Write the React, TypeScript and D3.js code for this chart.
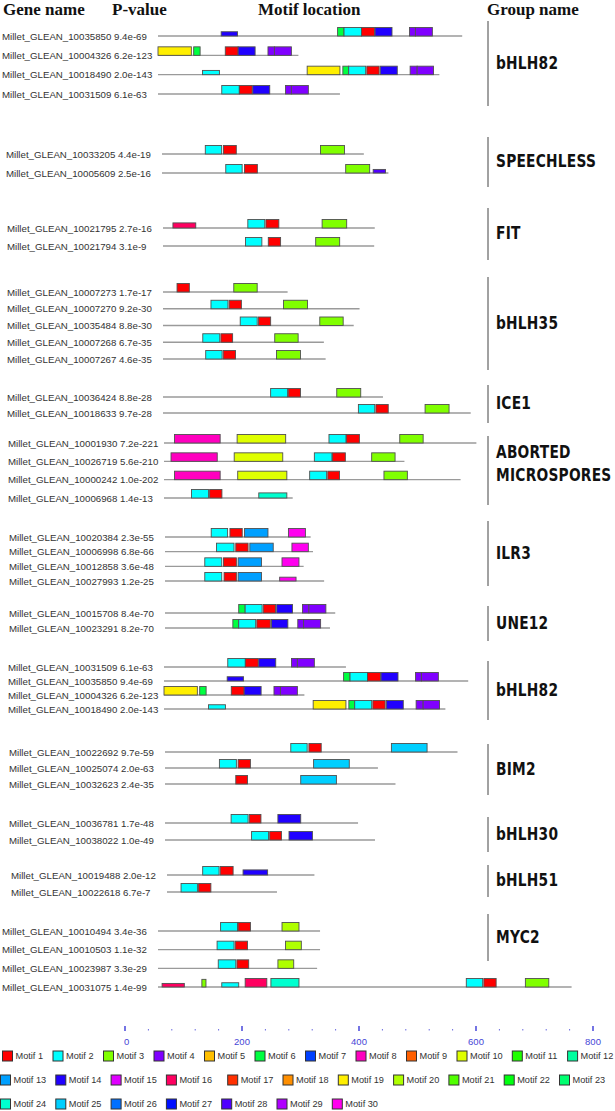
import React from "react";
import * as d3 from "d3";

// ---------- DATA ----------
const motifColors = [
  "#ff0000", "#00ffff", "#80ff00", "#8000ff", "#ffbf00", "#00ff40", "#0040ff", "#ff00bf",
  "#ff6000", "#dfff00", "#20ff00", "#00ffa0", "#00a0ff", "#2000ff", "#df00ff", "#ff0060",
  "#ff3000", "#ff8f00", "#ffef00", "#afff00", "#50ff00", "#00ff10", "#00ff70", "#00ffcf",
  "#00cfff", "#0070ff", "#0010ff", "#5000ff", "#af00ff", "#ff00ef",
];

const groupNames = [
  "bHLH82", "SPEECHLESS", "FIT", "bHLH35", "ICE1", "ABORTED\nMICROSPORES", "ILR3",
  "UNE12", "bHLH82", "BIM2", "bHLH30", "bHLH51", "MYC2",
];

const groupGenes = [
  ["10035850", "10004326", "10018490", "10031509"],
  ["10033205", "10005609"],
  ["10021795", "10021794"],
  ["10007273", "10007270", "10035484", "10007268", "10007267"],
  ["10036424", "10018633"],
  ["10001930", "10026719", "10000242", "10006968"],
  ["10020384", "10006998", "10012858", "10027993"],
  ["10015708", "10023291"],
  ["10031509", "10035850", "10004326", "10018490"],
  ["10022692", "10025074", "10032623"],
  ["10036781", "10038022"],
  ["10019488", "10022618"],
  ["10010494", "10010503", "10023987", "10031075"],
];

const genePrefix = "Millet_GLEAN_";

const pValues: Record<string, string> = {
  "10035850": "9.4e-69", "10004326": "6.2e-123", "10018490": "2.0e-143", "10031509": "6.1e-63",
  "10033205": "4.4e-19", "10005609": "2.5e-16", "10021795": "2.7e-16", "10021794": "3.1e-9",
  "10007273": "1.7e-17", "10007270": "9.2e-30", "10035484": "8.8e-30", "10007268": "6.7e-35",
  "10007267": "4.6e-35", "10036424": "8.8e-28", "10018633": "9.7e-28", "10001930": "7.2e-221",
  "10026719": "5.6e-210", "10000242": "1.0e-202", "10006968": "1.4e-13", "10020384": "2.3e-55",
  "10006998": "6.8e-66", "10012858": "3.6e-48", "10027993": "1.2e-25", "10015708": "8.4e-70",
  "10023291": "8.2e-70", "10022692": "9.7e-59", "10025074": "2.0e-63", "10032623": "2.4e-35",
  "10036781": "1.7e-48", "10038022": "1.0e-49", "10019488": "2.0e-12", "10022618": "6.7e-7",
  "10010494": "3.4e-36", "10010503": "1.1e-32", "10023987": "3.3e-29", "10031075": "1.4e-99",
};

const seqLengths: Record<string, number> = {
  "10035850": 520, "10004326": 240, "10018490": 481, "10031509": 311,
  "10033205": 345, "10005609": 387, "10021795": 362, "10021794": 361,
  "10007273": 213, "10007270": 336, "10035484": 326, "10007268": 275,
  "10007267": 278, "10036424": 376, "10018633": 526, "10001930": 534,
  "10026719": 411, "10000242": 507, "10006968": 220, "10020384": 249,
  "10006998": 253, "10012858": 237, "10027993": 272, "10015708": 291,
  "10023291": 282, "10022692": 500, "10025074": 364, "10032623": 394,
  "10036781": 330, "10038022": 359, "10019488": 252, "10022618": 188,
  "10010494": 277, "10010503": 277, "10023987": 272, "10031075": 707,
};

// [motif number, start, end, relative strength]
const motifHits: Record<string, [number, number, number, number][]> = {
  "10035850": [[14, 108, 136, 0.5], [6, 307, 318, 1], [2, 318, 348, 1], [1, 348, 370, 1], [14, 371, 400, 1], [4, 430, 440, 1], [4, 440, 469, 1]],
  "10004326": [[19, 0, 57, 1], [6, 61, 72, 1], [1, 115, 137, 1], [14, 137, 166, 1], [4, 188, 199, 1], [4, 199, 228, 1]],
  "10018490": [[2, 76, 105, 0.5], [19, 255, 311, 1], [6, 316, 326, 1], [2, 326, 355, 1], [1, 357, 378, 1], [14, 380, 409, 1], [4, 431, 443, 1], [4, 443, 471, 1]],
  "10031509": [[2, 109, 139, 1], [1, 139, 161, 1], [14, 162, 191, 1], [4, 218, 228, 1], [4, 228, 257, 1]],
  "10033205": [[2, 74, 102, 1], [1, 105, 127, 1], [3, 271, 312, 1]],
  "10005609": [[2, 109, 137, 1], [1, 141, 163, 1], [3, 314, 355, 1], [28, 361, 382, 0.42]],
  "10021795": [[16, 17, 56, 0.6], [2, 145, 174, 1], [1, 176, 198, 1], [3, 272, 314, 1]],
  "10021794": [[2, 141, 169, 1], [1, 180, 201, 1], [3, 261, 302, 1]],
  "10007273": [[1, 24, 45, 1], [3, 121, 161, 1]],
  "10007270": [[2, 82, 111, 1], [1, 113, 134, 1], [3, 206, 247, 1]],
  "10035484": [[2, 132, 161, 1], [1, 163, 184, 1], [3, 268, 308, 1]],
  "10007268": [[2, 68, 97, 1], [1, 99, 119, 1], [3, 191, 231, 1]],
  "10007267": [[2, 73, 101, 1], [1, 103, 124, 1], [3, 194, 235, 1]],
  "10036424": [[2, 184, 213, 1], [1, 214, 235, 1], [3, 297, 338, 1]],
  "10018633": [[2, 334, 362, 1], [1, 364, 385, 1], [3, 448, 489, 1]],
  "10001930": [[8, 18, 96, 1], [10, 125, 208, 1], [2, 282, 311, 1], [1, 312, 334, 1], [3, 403, 443, 1]],
  "10026719": [[8, 12, 91, 1], [10, 120, 203, 1], [2, 257, 287, 1], [1, 288, 310, 1], [3, 355, 395, 1]],
  "10000242": [[8, 18, 96, 1], [10, 126, 210, 1], [2, 249, 278, 1], [1, 280, 300, 1], [3, 376, 416, 1]],
  "10006968": [[2, 47, 76, 1], [1, 78, 99, 1], [24, 162, 210, 0.6]],
  "10020384": [[2, 79, 107, 1], [1, 111, 132, 1], [13, 136, 176, 1], [30, 211, 240, 1]],
  "10006998": [[2, 88, 118, 1], [1, 121, 142, 1], [13, 145, 185, 1], [30, 217, 245, 1]],
  "10012858": [[2, 68, 97, 1], [1, 100, 122, 1], [13, 125, 165, 1], [30, 200, 229, 1]],
  "10027993": [[2, 68, 97, 1], [1, 101, 122, 1], [13, 125, 165, 1], [30, 196, 224, 0.45]],
  "10015708": [[6, 126, 137, 1], [2, 137, 166, 1], [1, 168, 189, 1], [14, 191, 218, 1], [4, 235, 246, 1], [4, 246, 275, 1]],
  "10023291": [[6, 116, 126, 1], [2, 126, 155, 1], [1, 157, 180, 1], [14, 182, 210, 1], [4, 227, 237, 1], [4, 237, 266, 1]],
  "10022692": [[2, 215, 243, 1], [1, 246, 267, 1], [25, 387, 448, 1]],
  "10025074": [[2, 93, 122, 1], [1, 125, 146, 1], [25, 254, 315, 1]],
  "10032623": [[1, 121, 141, 1], [25, 232, 293, 1]],
  "10036781": [[2, 113, 142, 1], [1, 144, 164, 1], [14, 193, 232, 1]],
  "10038022": [[2, 148, 177, 1], [1, 179, 199, 1], [14, 212, 252, 1]],
  "10019488": [[2, 61, 89, 1], [1, 91, 113, 1], [14, 130, 172, 0.6]],
  "10022618": [[2, 24, 52, 1], [1, 54, 75, 1]],
  "10010494": [[2, 107, 136, 1], [1, 137, 158, 1], [20, 212, 241, 1]],
  "10010503": [[2, 101, 130, 1], [1, 132, 153, 1], [20, 218, 245, 1]],
  "10023987": [[2, 103, 133, 1], [1, 135, 155, 1], [20, 205, 232, 1]],
  "10031075": [[16, 7, 45, 0.42], [3, 75, 82, 0.9], [2, 109, 138, 0.5], [16, 149, 186, 1], [24, 193, 241, 1], [2, 527, 555, 1], [1, 557, 578, 1], [3, 628, 668, 1]],
};

const axisMajorTicks = [0, 200, 400, 600, 800];
const axisMinorStep = 40;
const legendRows = [d3.range(1, 13), d3.range(13, 24), d3.range(24, 31)];

// ---------- LAYOUT ----------
const W = 615;
const H = 1111;
const groupRowRange: [number, number][] = [
  [36, 94], [154, 173], [228, 246], [292, 359], [397, 413], [443, 498], [537, 581],
  [613, 628], [667, 709], [752, 784], [823, 840], [875, 892], [931, 987],
];
const groupBracket: [number, number][] = [
  [21, 106], [137, 187], [208, 260], [277, 370], [385, 423], [436, 505], [521, 586],
  [606, 641], [661, 720], [744, 795], [817, 852], [865, 897], [914, 961],
];
const groupDx = [0, 4, 5, 5, 5, 6, 7, 7, 6, 7, 7, 9, 0];
const legendRowY = [1056, 1080, 1104];
const legendRowX0 = [2, 0, 0];

export default function App() {
  const seqX = d3.scaleLinear().domain([0, 800]).range([158, 626]);
  const axisX = d3.scaleLinear().domain([0, 800]).range([125, 593]);
  const boxH = d3.scaleLinear().domain([0, 1]).range([0, 8.5]);
  const color = d3.scaleOrdinal<number, string>().domain(d3.range(1, 31)).range(motifColors);

  const legendItems: { m: number; x: number; y: number }[] = [];
  legendRows.forEach((row, ri) => {
    let x = legendRowX0[ri];
    row.forEach((m) => {
      if (m === 17) x += 6;
      legendItems.push({ m, x, y: legendRowY[ri] });
      x += m < 10 ? 50.5 : 55.3;
    });
  });

  const minorTicks = d3.range(0, 801, axisMinorStep).filter((t) => t % 200 !== 0);

  return (
    <svg
      width={W}
      height={H}
      style={{ position: "absolute", left: 0, top: 0, background: "#fff" }}
      fontFamily="'Liberation Sans', Arial, sans-serif"
    >
      <rect x={0} y={0} width={W} height={H} fill="#fff" />
      {/* Header */}
      <g fontFamily="'Liberation Serif', 'DejaVu Serif', serif" fontWeight="bold" fontSize={17} fill="#111">
        <text x={3} y={15}>Gene name</text>
        <text x={112} y={15}>P-value</text>
        <text x={258} y={15}>Motif location</text>
        <text x={487} y={15}>Group name</text>
      </g>

      {groupNames.map((name, gi) => {
        const genes = groupGenes[gi];
        const yScale = d3.scalePoint<number>().domain(d3.range(genes.length)).range(groupRowRange[gi]);
        const dx = groupDx[gi];
        const [b0, b1] = groupBracket[gi];
        const mid = (b0 + b1) / 2;
        const lines = name.split("\n");
        const startY = mid - ((lines.length - 1) * 23) / 2 - 6 * (lines.length - 1);
        return (
          <g key={gi}>
            {genes.map((g, ri) => {
              const y = yScale(ri) as number;
              return (
                <g key={g + ri}>
                  <text x={2 + dx} y={y + 3.5} fontSize={9.7} fill="#333">
                    {genePrefix + g} {pValues[g]}
                  </text>
                  <line
                    x1={seqX(0) + dx}
                    x2={seqX(seqLengths[g]) + dx}
                    y1={y}
                    y2={y}
                    stroke="#9a9a9a"
                    strokeWidth={1.3}
                  />
                  {motifHits[g].map(([m, s, e, st], k) => (
                    <rect
                      key={k}
                      x={seqX(s) + dx}
                      y={y - boxH(st)}
                      width={seqX(e) - seqX(s)}
                      height={boxH(st)}
                      fill={color(m)}
                      stroke="#505050"
                      strokeWidth={0.9}
                    />
                  ))}
                </g>
              );
            })}
            <line x1={488} x2={488} y1={b0} y2={b1} stroke="#444" strokeWidth={1} />
            {lines.map((ln, li) => (
              <text
                key={li}
                transform={`translate(496,${startY + li * 23}) scale(0.81,1)`}
                dominantBaseline="central"
                fontFamily="'DejaVu Sans', sans-serif"
                fontWeight="bold"
                fontSize={17}
                fill="#111"
                letterSpacing={0.3}
              >
                {ln}
              </text>
            ))}
          </g>
        );
      })}

      {/* Axis */}
      <g>
        {axisMajorTicks.map((t) => (
          <g key={t}>
            <line x1={axisX(t)} x2={axisX(t)} y1={1026} y2={1031} stroke="#3a3ad8" strokeWidth={1.4} />
            <text x={axisX(t)} y={1041} dominantBaseline="central" textAnchor={t === 0 ? "start" : "middle"} dx={t === 0 ? -1 : 0} fontSize={9.5} fill="#4646d6">
              {t}
            </text>
          </g>
        ))}
        {minorTicks.map((t) => (
          <rect key={t} x={axisX(t) - 0.5} y={1029} width={1} height={1.5} fill="#6a6ae0" />
        ))}
      </g>

      {/* Legend */}
      <g>
        {legendItems.map(({ m, x, y }) => (
          <g key={m}>
            <rect x={x + 0.5} y={y - 5} width={10} height={10} fill={color(m)} stroke="#333" strokeWidth={1} />
            <text x={x + 13.5} y={y} dominantBaseline="central" fontSize={9.2} fill="#333">
              {"Motif " + m}
            </text>
          </g>
        ))}
      </g>
    </svg>
  );
}
